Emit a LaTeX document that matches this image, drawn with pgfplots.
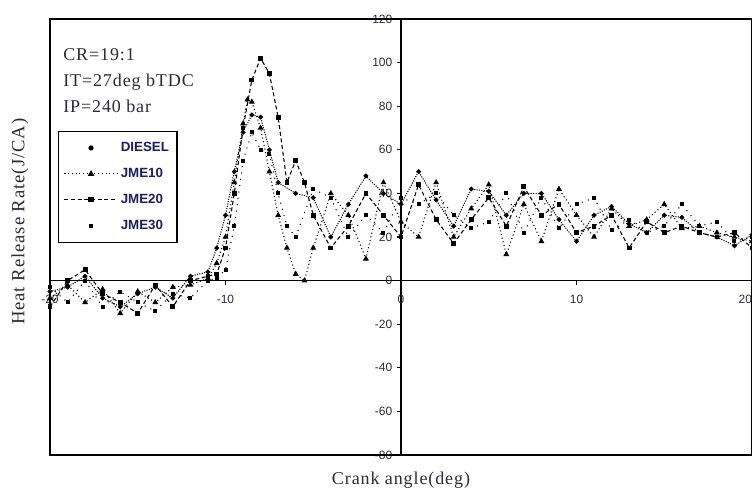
\documentclass[border=0pt]{standalone}
\usepackage{fontspec}
\setmainfont{Liberation Serif}
\newfontfamily\arial{Liberation Sans}
\newfontfamily\spaced{Liberation Serif}[LetterSpace=5]
\usepackage{pgfplots}
\pgfplotsset{compat=1.18}
\definecolor{txt}{RGB}{45,40,60}
\definecolor{legtxt}{RGB}{30,30,95}
\begin{document}
\begin{tikzpicture}
\begin{axis}[
  scale only axis, width=526.5pt, height=327pt,
  xmin=-20, xmax=20, ymin=-80, ymax=120,
  axis lines=middle,
  axis line style={line width=0.9pt, -},
  hide obscured x ticks=false, hide obscured y ticks=false,
  xtick={-20,-10,0,10,20},
  ytick={-80,-60,-40,-20,0,20,40,60,80,100,120},
  tick align=outside, major tick length=3pt,
  tick style={black, line width=0.8pt},
  /pgf/number format/assume math mode=true,
  tick label style={font=\arial\fontsize{9}{10}\selectfont, text=txt},
  xticklabel style={yshift=-4pt},
  xticklabels={-20,-10,0,10,{\makebox[0pt][r]{20}}},
  clip=false,
  legend style={at={(rel axis cs:0,1)}, anchor=north west, xshift=6pt, yshift=-84pt,
    draw=black, line width=0.9pt, font=\arial\bfseries\fontsize{10}{11}\selectfont, text=legtxt,
    row sep=7pt, inner xsep=4pt, inner ysep=6pt},
  legend cell align=left,
  legend image code/.code={\draw[mark repeat=2,mark phase=2,#1] plot coordinates {(0cm,0cm)(0.7cm,0cm)(1.4cm,0cm)};},
]
\draw[line width=1.3pt] (rel axis cs:0,0) rectangle (rel axis cs:1,1);
\addlegendimage{only marks, mark=*, mark size=1.5pt, black}
\addlegendentry{DIESEL}
\addlegendimage{black, line width=0.8pt, dotted, mark=triangle*, mark size=2pt, mark options={solid}}
\addlegendentry{JME10}
\addlegendimage{black, line width=0.8pt, dash pattern=on 3pt off 2pt, mark=square*, mark size=1.5pt, mark options={solid}}
\addlegendentry{JME20}
\addlegendimage{only marks, mark=square*, mark size=1.1pt, black}
\addlegendentry{JME30}
% DIESEL
\addplot[forget plot, black, line width=0.8pt, densely dotted, mark=*, mark size=1.4pt, mark options={solid}] coordinates {
(-20,-5) (-19,-3) (-18,2) (-17,-8) (-16,-12) (-15,-6) (-14,-3) (-13,-8) (-12,2) (-11,4)
(-10.5,15) (-10,30) (-9.5,50) (-9,68) (-8.5,76) (-8,75) (-7.5,60) (-7,45) (-6,40) (-5,38)
(-4,20) (-3,35) (-2,48) (-1,40) (0,35) (1,50) (2,37) (3,25) (4,42) (5,41) (6,30) (7,40)
(8,40) (9,28) (10,18) (11,30) (12,34) (13,26) (14,22) (15,30) (16,29) (17,22) (18,20) (19,16) (20,21)};
% JME10
\addplot[forget plot, black, line width=0.8pt, dotted, mark=triangle*, mark size=1.8pt, mark options={solid}] coordinates {
(-20,-8) (-19,-2) (-18,-10) (-17,-4) (-16,-15) (-15,-5) (-14,-10) (-13,-3) (-12,-2) (-11,1)
(-10.5,8) (-10,20) (-9.5,45) (-9,72) (-8.75,83) (-8.5,82) (-8,70) (-7.5,50) (-7,30) (-6.5,15)
(-6,3) (-5.5,0) (-5,15) (-4,40) (-3,30) (-2,10) (-1,45) (0,27) (1,20) (2,45) (3,20) (4,33)
(5,44) (6,12) (7,35) (8,18) (9,42) (10,30) (11,20) (12,33) (13,25) (14,28) (15,35) (16,24)
(17,25) (18,22) (19,20) (20,18)};
% JME20
\addplot[forget plot, black, line width=0.8pt, dash pattern=on 3pt off 2pt, mark=square*, mark size=1.4pt, mark options={solid}] coordinates {
(-20,-12) (-19,0) (-18,5) (-17,-6) (-16,-10) (-15,-15) (-14,-2) (-13,-12) (-12,0) (-11,2)
(-10.5,3) (-10,15) (-9.5,40) (-9,70) (-8.5,92) (-8,102) (-7.5,95) (-7,75) (-6.5,45) (-6,55)
(-5.5,45) (-5,30) (-4,15) (-3,25) (-2,40) (-1,30) (0,20) (1,44) (2,28) (3,17) (4,28) (5,38)
(6,25) (7,43) (8,30) (9,35) (10,22) (11,25) (12,30) (13,15) (14,27) (15,22) (16,25) (17,22)
(18,20) (19,22) (20,15)};
% JME30
\addplot[forget plot, black, line width=0.8pt, loosely dotted, mark=square*, mark size=1.1pt, mark options={solid}] coordinates {
(-20,-3) (-19,-10) (-18,0) (-17,-12) (-16,-5) (-15,-10) (-14,-14) (-13,-6) (-12,-8) (-11,0)
(-10.5,1) (-10,5) (-9.5,25) (-9,55) (-8.5,68) (-8,60) (-7.5,58) (-7,40) (-6.5,25) (-6,20)
(-5,42) (-4,38) (-3,20) (-2,30) (-1,22) (0,38) (1,35) (2,40) (3,30) (4,24) (5,27) (6,40)
(7,22) (8,38) (9,24) (10,35) (11,38) (12,23) (13,28) (14,22) (15,25) (16,35) (17,25) (18,27)
(19,18) (20,20)};
\node[anchor=west, text=txt, font=\spaced\fontsize{13.5}{15}\selectfont, inner sep=0pt]
  at ([xshift=9.75pt,yshift=-27pt]rel axis cs:0,1) {CR=19:1};
\node[anchor=west, text=txt, font=\spaced\fontsize{13.5}{15}\selectfont, inner sep=0pt]
  at ([xshift=9.75pt,yshift=-47.25pt]rel axis cs:0,1) {IT=27deg bTDC};
\node[anchor=west, text=txt, font=\spaced\fontsize{13.5}{15}\selectfont, inner sep=0pt]
  at ([xshift=9.75pt,yshift=-65.25pt]rel axis cs:0,1) {IP=240 bar};
\node[rotate=90, text=txt, font=\spaced\fontsize{14}{15}\selectfont]
  at ([xshift=-22.5pt]rel axis cs:0,0.535) {Heat Release Rate(J/CA)};
\node[text=txt, font=\spaced\fontsize{13.5}{15}\selectfont]
  at ([yshift=-18.75pt]rel axis cs:0.5,0) {Crank angle(deg)};
\end{axis}
\pgfresetboundingbox
\useasboundingbox (-37.5pt,-29.25pt) rectangle (526.5pt,341.25pt);
\end{tikzpicture}
\end{document}
